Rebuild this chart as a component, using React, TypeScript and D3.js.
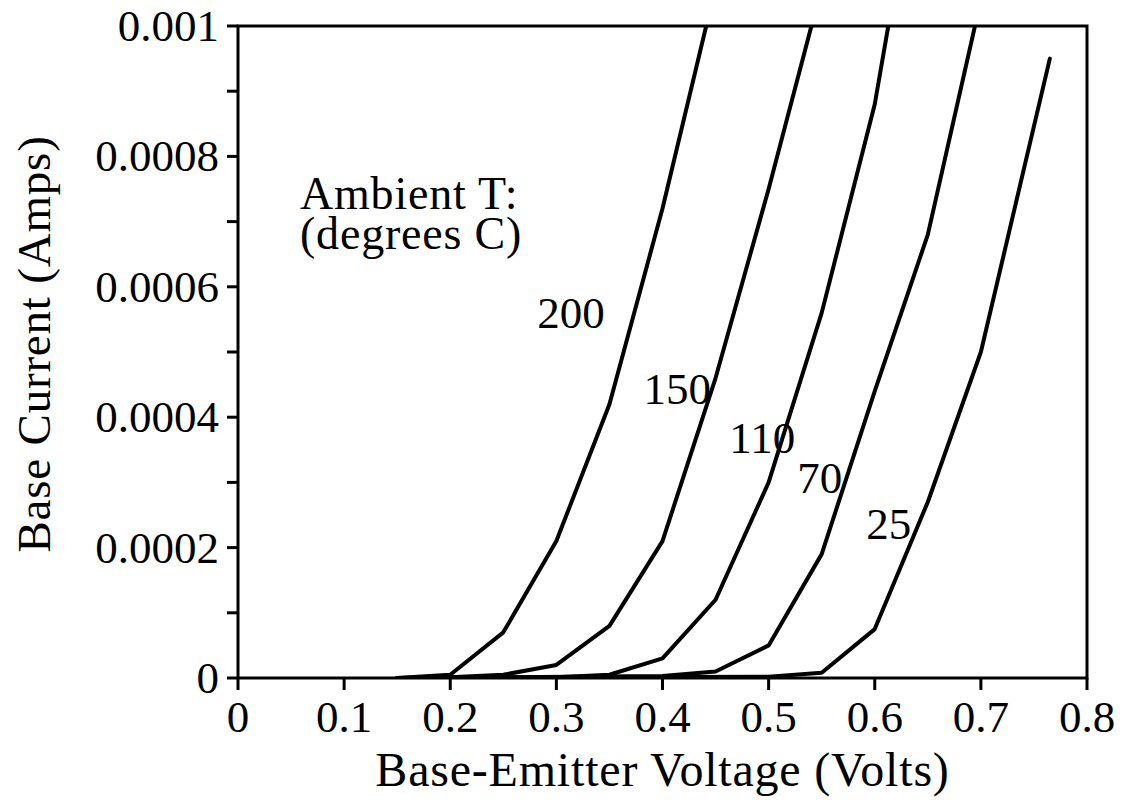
import React from "react";
import * as d3 from "d3";

// ---- data ----
const xTicks = [0, 0.1, 0.2, 0.3, 0.4, 0.5, 0.6, 0.7, 0.8];
const xTickLabels = ["0", "0.1", "0.2", "0.3", "0.4", "0.5", "0.6", "0.7", "0.8"];
const yTicks = [0, 0.0002, 0.0004, 0.0006, 0.0008, 0.001];
const yTickLabels = ["0", "0.0002", "0.0004", "0.0006", "0.0008", "0.001"];
const yMinorTicks = [0.0001, 0.0003, 0.0005, 0.0007, 0.0009];

const temps = ["200", "150", "110", "70", "25"];
const legendLines = ["Ambient T:", "(degrees C)"];

const v200: [number, number][] = [
  [0.15, 0], [0.2, 0.000005], [0.25, 0.00007], [0.3, 0.00021], [0.35, 0.00042], [0.4, 0.00072], [0.45, 0.00106],
];
const v150: [number, number][] = [
  [0.15, 0], [0.2, 0.000001], [0.25, 0.000005], [0.3, 0.00002], [0.35, 0.00008], [0.4, 0.00021], [0.45, 0.00046], [0.5, 0.00075], [0.55, 0.00106],
];
const v110: [number, number][] = [
  [0.15, 0], [0.3, 0.000001], [0.35, 0.000005], [0.4, 0.00003], [0.45, 0.00012], [0.5, 0.0003], [0.55, 0.00056], [0.6, 0.00088], [0.65, 0.00135],
];
const v70: [number, number][] = [
  [0.15, 0], [0.4, 0.000003], [0.45, 0.00001], [0.5, 0.00005], [0.55, 0.00019], [0.6, 0.00044], [0.65, 0.00068], [0.7, 0.00104],
];
const v25: [number, number][] = [
  [0.15, 0], [0.5, 0.000002], [0.55, 0.000008], [0.6, 0.000075], [0.65, 0.00027], [0.7, 0.0005], [0.765, 0.00095],
];
const series = [v200, v150, v110, v70, v25];
// label anchor positions in data units (left x, baseline y)
const labelPos: [number, number][] = [
  [0.282, 0.000537],
  [0.382, 0.000420],
  [0.463, 0.000345],
  [0.527, 0.000284],
  [0.592, 0.000213],
];

export default function App() {
  const W = 1146, H = 808;
  const left = 238, right = 1087, top = 26, bottom = 678;
  const x = d3.scaleLinear().domain([0, 0.8]).range([left, right]);
  const y = d3.scaleLinear().domain([0, 0.001]).range([bottom, top]);
  const line = d3.line<[number, number]>().x(d => x(d[0])).y(d => y(d[1]));
  const font = "'Liberation Serif', 'Times New Roman', serif";
  return (
    <svg width={W} height={H} style={{ position: "absolute", left: 0, top: 0, background: "#fff" }}
      fontFamily={font}>
      <defs>
        <clipPath id="plot">
          <rect x={left} y={top} width={right - left} height={bottom - top} />
        </clipPath>
      </defs>
      <rect x={0} y={0} width={W} height={H} fill="#fff" />
      {/* curves */}
      <g clipPath="url(#plot)">
        {series.map((s, i) => (
          <path key={i} d={line(s) || ""} fill="none" stroke="#000" strokeWidth={4} strokeLinejoin="round" strokeLinecap="round" />
        ))}
      </g>
      {/* frame */}
      <rect x={left} y={top} width={right - left} height={bottom - top} fill="none" stroke="#000" strokeWidth={3} />
      {/* y ticks */}
      {yTicks.map((t, i) => (
        <g key={"y" + i}>
          <line x1={left - 11} x2={left} y1={y(t)} y2={y(t)} stroke="#000" strokeWidth={3} />
          <text x={left - 19} y={y(t) + 15} textAnchor="end" fontSize={45}>{yTickLabels[i]}</text>
        </g>
      ))}
      {yMinorTicks.map((t, i) => (
        <line key={"ym" + i} x1={left - 11} x2={left} y1={y(t)} y2={y(t)} stroke="#000" strokeWidth={3} />
      ))}
      {/* x ticks */}
      {xTicks.map((t, i) => (
        <g key={"x" + i}>
          <line x1={x(t)} x2={x(t)} y1={bottom} y2={bottom + 12} stroke="#000" strokeWidth={3} />
          <text x={x(t)} y={bottom + 54} textAnchor="middle" fontSize={45}>{xTickLabels[i]}</text>
        </g>
      ))}
      {/* axis titles */}
      <text x={(left + right) / 2} y={786} textAnchor="middle" fontSize={48} letterSpacing={0.8}>
        Base-Emitter Voltage (Volts)
      </text>
      <text transform={`translate(50, ${344}) rotate(-90)`} textAnchor="middle" fontSize={47} letterSpacing={0.8}>
        Base Current (Amps)
      </text>
      {/* legend title (one text, two lines) */}
      <text x={300} y={209} fontSize={46} letterSpacing={0.8}>
        {legendLines.map((l, i) => (
          <tspan key={i} x={300} dy={i === 0 ? 0 : 40}>{l}</tspan>
        ))}
      </text>
      {/* curve labels */}
      {temps.map((t, i) => (
        <text key={"l" + i} x={x(labelPos[i][0])} y={y(labelPos[i][1])} fontSize={45}>{t}</text>
      ))}
    </svg>
  );
}
